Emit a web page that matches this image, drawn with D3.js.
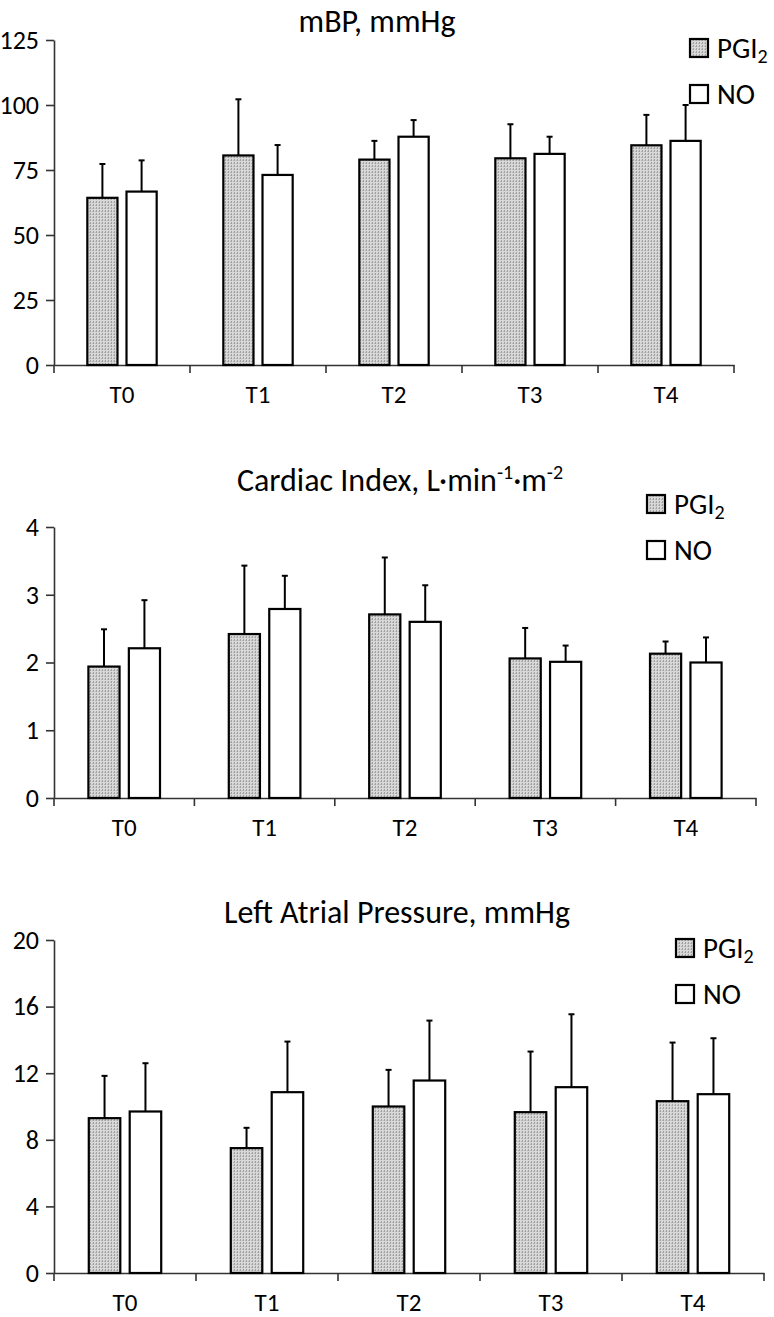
<!DOCTYPE html>
<html>
<head>
<meta charset="utf-8">
<script src="https://cdn.jsdelivr.net/npm/d3@7"></script>
<style>
  html, body { margin: 0; padding: 0; background: #fff; }
  svg text { font-family: Carlito, Lato, "Open Sans", sans-serif; fill: #000; }
</style>
</head>
<body>
<svg id="chart" width="774" height="1317"></svg>
<script>
// ---- data ----
const categories = ["T0", "T1", "T2", "T3", "T4"];
const seriesNames = ["PGI", "NO"];

const mbpTicks = [0, 25, 50, 75, 100, 125];
const mbpPGI   = [64.3, 80.6, 79.0, 79.5, 84.5];
const mbpPGIsd = [13.0, 21.6, 7.2, 13.1, 11.7];
const mbpNO    = [66.7, 73.1, 87.8, 81.2, 86.2];
const mbpNOsd  = [12.0, 11.5, 6.4, 6.6, 13.8];

const ciTicks = [0, 1, 2, 3, 4];
const ciPGI   = [1.94, 2.42, 2.71, 2.06, 2.13];
const ciPGIsd = [0.55, 1.01, 0.84, 0.45, 0.18];
const ciNO    = [2.21, 2.79, 2.60, 2.01, 2.00];
const ciNOsd  = [0.71, 0.49, 0.54, 0.24, 0.37];

const lapTicks = [0, 4, 8, 12, 16, 20];
const lapPGI   = [9.3, 7.5, 10.0, 9.66, 10.32];
const lapPGIsd = [2.54, 1.22, 2.2, 3.64, 3.52];
const lapNO    = [9.7, 10.86, 11.56, 11.16, 10.74];
const lapNOsd  = [2.9, 3.04, 3.6, 4.38, 3.36];

// ---- drawing ----
const svg = d3.select("#chart");
const defs = svg.append("defs");
const pat = defs.append("pattern").attr("id", "stipple")
  .attr("patternUnits", "userSpaceOnUse").attr("width", 3).attr("height", 3);
pat.append("rect").attr("width", 3).attr("height", 3).attr("fill", "#d8d8d8");
pat.append("rect").attr("x", 0).attr("y", 0).attr("width", 1).attr("height", 2).attr("fill", "#a0a0a0");
pat.append("rect").attr("x", 2).attr("y", 1).attr("width", 1).attr("height", 1).attr("fill", "#b8b8b8");

function drawPanel(cfg) {
  const g = svg.append("g");
  const x = d3.scaleBand().domain(categories).range([cfg.x0, cfg.x1]).paddingInner(0).paddingOuter(0);
  const y = d3.scaleLinear().domain([0, cfg.ticks[cfg.ticks.length - 1]]).range([cfg.yBase, cfg.yTop]);
  const bw = x.bandwidth();
  const gw = bw * 0.51;
  const x1 = d3.scaleBand().domain(seriesNames).range([(bw - gw) / 2, (bw + gw) / 2]).paddingInner(0.23);

  // title
  const t = g.append("text").attr("x", cfg.titleX).attr("y", cfg.titleY)
    .attr("text-anchor", "middle").style("font-size", "32px");
  cfg.title(t);

  // y axis
  const yAxis = d3.axisLeft(y).tickValues(cfg.ticks).tickFormat(d3.format("d"))
    .tickSize(8).tickPadding(7).tickSizeOuter(0);
  const ya = g.append("g").attr("transform", `translate(${cfg.x0},0)`).call(yAxis);
  ya.selectAll("text").style("font-size", "26px").attr("fill", "#000");
  ya.selectAll("line").attr("stroke", "#333").attr("stroke-width", 1.6);
  ya.select(".domain").attr("stroke", "#333").attr("stroke-width", 1.6);

  // x axis
  const xAxis = d3.axisBottom(x).tickSize(0).tickPadding(20).tickSizeOuter(0);
  const xa = g.append("g").attr("transform", `translate(0,${cfg.yBase})`).call(xAxis);
  xa.select(".domain").attr("stroke", "#333").attr("stroke-width", 1.6);
  xa.selectAll("text").style("font-size", "25px").attr("fill", "#000");
  // boundary ticks
  const bounds = categories.map(c => x(c)).concat([cfg.x1]);
  g.append("g").selectAll("line").data(bounds).join("line")
    .attr("x1", d => d).attr("x2", d => d)
    .attr("y1", cfg.yBase).attr("y2", cfg.yBase + 8)
    .attr("stroke", "#333").attr("stroke-width", 1.6);

  // bars
  const rows = [];
  categories.forEach((c, i) => {
    seriesNames.forEach((s, j) => {
      const vals = j === 0 ? cfg.pgi : cfg.no;
      const sds = j === 0 ? cfg.pgiSd : cfg.noSd;
      rows.push({ c, s, v: vals[i], sd: sds[i] });
    });
  });
  const bars = g.append("g");
  bars.selectAll("line.err").data(rows).join("line").attr("class", "err")
    .attr("x1", d => x(d.c) + x1(d.s) + x1.bandwidth() / 2)
    .attr("x2", d => x(d.c) + x1(d.s) + x1.bandwidth() / 2)
    .attr("y1", d => y(d.v)).attr("y2", d => y(d.v + d.sd))
    .attr("stroke", "#000").attr("stroke-width", 2);
  bars.selectAll("line.cap").data(rows).join("line").attr("class", "cap")
    .attr("x1", d => x(d.c) + x1(d.s) + x1.bandwidth() / 2 - 3)
    .attr("x2", d => x(d.c) + x1(d.s) + x1.bandwidth() / 2 + 3)
    .attr("y1", d => y(d.v + d.sd)).attr("y2", d => y(d.v + d.sd))
    .attr("stroke", "#000").attr("stroke-width", 2);
  bars.selectAll("rect").data(rows).join("rect")
    .attr("x", d => x(d.c) + x1(d.s))
    .attr("y", d => y(d.v))
    .attr("width", x1.bandwidth())
    .attr("height", d => y(0) - y(d.v))
    .attr("fill", d => d.s === "PGI" ? "url(#stipple)" : "#fff")
    .attr("stroke", "#000").attr("stroke-width", 2.2);

  // legend
  const lg = g.append("g").attr("transform", `translate(${cfg.legX},${cfg.legY})`);
  seriesNames.forEach((s, j) => {
    const yy = j * 46;
    lg.append("rect").attr("x", 0).attr("y", yy).attr("width", 18).attr("height", 18)
      .attr("fill", s === "PGI" ? "url(#stipple)" : "#fff")
      .attr("stroke", "#000").attr("stroke-width", 2.2);
    const tx = lg.append("text").attr("x", 27).attr("y", yy + 19).style("font-size", "29px");
    if (s === "PGI") {
      tx.append("tspan").text("PGI");
      tx.append("tspan").attr("dy", 5).style("font-size", "20px").text("2");
    } else {
      tx.text("NO");
    }
  });
}

drawPanel({
  x0: 54, x1: 734, yBase: 365, yTop: 40, ticks: mbpTicks,
  pgi: mbpPGI, pgiSd: mbpPGIsd, no: mbpNO, noSd: mbpNOsd,
  titleX: 377, titleY: 32, legX: 690, legY: 39,
  title: t => t.text("mBP, mmHg")
});

drawPanel({
  x0: 54, x1: 756, yBase: 798, yTop: 527, ticks: ciTicks,
  pgi: ciPGI, pgiSd: ciPGIsd, no: ciNO, noSd: ciNOsd,
  titleX: 400, titleY: 491, legX: 647, legY: 495,
  title: t => {
    t.append("tspan").text("Cardiac Index, L·min");
    t.append("tspan").attr("dy", -12).style("font-size", "20px").text("-1");
    t.append("tspan").attr("dy", 12).text("·m");
    t.append("tspan").attr("dy", -12).style("font-size", "20px").text("-2");
  }
});

drawPanel({
  x0: 54, x1: 764, yBase: 1273, yTop: 940, ticks: lapTicks,
  pgi: lapPGI, pgiSd: lapPGIsd, no: lapNO, noSd: lapNOsd,
  titleX: 397, titleY: 923, legX: 676, legY: 939,
  title: t => t.text("Left Atrial Pressure, mmHg")
});
</script>
</body>
</html>
